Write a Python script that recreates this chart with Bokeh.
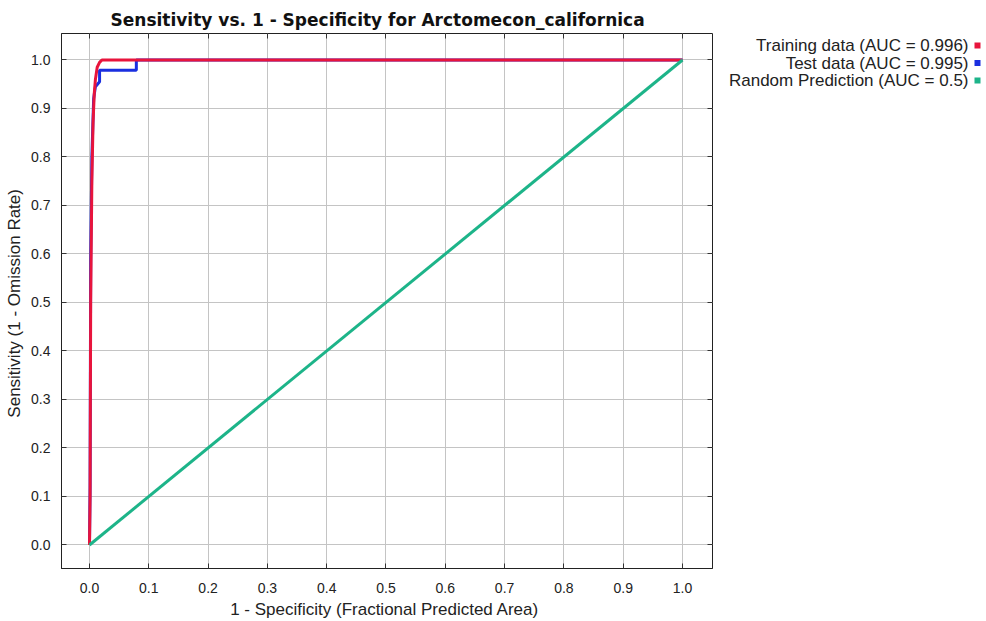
from bokeh.plotting import figure
from bokeh.layouts import row
from bokeh.models import FixedTicker, NumeralTickFormatter, LinearAxis, Range1d
from bokeh.core.properties import value
from bokeh.embed import file_html
from bokeh.resources import INLINE

# Data
train_fpr = [0.0, 0.001, 0.002, 0.004, 0.006, 0.008, 0.010, 0.013, 0.017, 0.021, 0.15, 1.0]
train_tpr = [0.0, 0.10, 0.50, 0.75, 0.87, 0.93, 0.96, 0.985, 0.995, 1.0, 1.0, 1.0]
test_fpr = [0.0, 0.001, 0.002, 0.004, 0.007, 0.010, 0.017, 0.017, 0.079, 0.079, 1.0]
test_tpr = [0.0, 0.12, 0.59, 0.80, 0.92, 0.945, 0.955, 0.979, 0.979, 1.0, 1.0]
rand_x = [0.0, 1.0]
rand_y = [0.0, 1.0]
ticks = [0.0, 0.1, 0.2, 0.3, 0.4, 0.5, 0.6, 0.7, 0.8, 0.9, 1.0]
legend_labels = ["Training data (AUC = 0.996)", "Test data (AUC = 0.995)", "Random Prediction (AUC = 0.5)"]
colors = ["#e8143c", "#1a2fe0", "#1db489"]

FONT = "Liberation Sans"
H = 621
MAIN_W = 720
LEG_W = 266
FRAME_TOP, FRAME_BOTTOM = 33, 568

p = figure(width=MAIN_W, height=H, output_backend="svg", toolbar_location=None,
           x_range=Range1d(-0.0472, 1.0506), y_range=Range1d(-0.0485, 1.0546),
           min_border_left=61, min_border_right=8, min_border_top=FRAME_TOP,
           min_border_bottom=H - FRAME_BOTTOM,
           title="Sensitivity vs. 1 - Specificity for Arctomecon_californica")
p.title.align = "left"
p.title.offset = 49
p.title.text_font = "DejaVu Sans"
p.title.text_font_size = "17px"
p.title.text_font_style = "bold"
p.title.text_color = "#111111"
p.title.standoff = 7

p.outline_line_color = "#222222"
p.outline_line_width = 1
p.background_fill_color = "white"
p.border_fill_color = "white"
p.grid.grid_line_color = "#c4c4c4"
p.grid.grid_line_width = 1
p.xgrid.ticker = FixedTicker(ticks=ticks)
p.ygrid.ticker = FixedTicker(ticks=ticks)

for ax in (p.xaxis[0], p.yaxis[0]):
    ax.ticker = FixedTicker(ticks=ticks)
    ax.formatter = NumeralTickFormatter(format="0.0")
    ax.axis_line_color = "#222222"
    ax.major_tick_line_color = "#333333"
    ax.major_tick_out = 0
    ax.major_tick_in = 5
    ax.minor_tick_line_color = None
    ax.major_label_text_font = FONT
    ax.major_label_text_font_size = "14px"
    ax.major_label_text_color = "#222222"
    ax.axis_label_text_font = FONT
    ax.axis_label_text_font_size = "17px"
    ax.axis_label_text_font_style = "normal"
    ax.axis_label_text_color = "#222222"

p.xaxis[0].axis_label = "1 - Specificity  (Fractional Predicted Area)"
p.yaxis[0].axis_label = "Sensitivity  (1 - Omission Rate)"
p.xaxis[0].major_label_standoff = 14
p.xaxis[0].axis_label_standoff = 4
p.yaxis[0].major_label_standoff = 11
p.yaxis[0].axis_label_standoff = 4

for side in ("right", "above"):
    ax = LinearAxis(ticker=FixedTicker(ticks=ticks), axis_line_color=None,
                    major_tick_line_color="#333333", major_tick_out=0, major_tick_in=5,
                    minor_tick_line_color=None, major_label_text_color=None,
                    major_label_text_font_size="1px", major_label_standoff=0)
    p.add_layout(ax, side)

p.line(test_fpr, test_tpr, line_color=colors[1], line_width=3)
p.line(train_fpr, train_tpr, line_color=colors[0], line_width=3)
p.line(rand_x, rand_y, line_color=colors[2], line_width=3)

# Legend panel: its frame is aligned with the main frame, so use page pixel coordinates
leg = figure(width=LEG_W, height=H, output_backend="svg", toolbar_location=None,
             x_range=Range1d(0, LEG_W), y_range=Range1d(FRAME_BOTTOM, FRAME_TOP),
             min_border=0, outline_line_color=None)
leg.axis.visible = False
leg.grid.visible = False
leg.background_fill_color = "white"
leg.border_fill_color = "white"
row_y = [45 + 17.5 * i for i in range(len(legend_labels))]
leg.text(x=[248] * len(legend_labels), y=row_y, text=legend_labels,
         text_align="right", text_baseline="middle",
         text_font=value(FONT), text_font_size=value("17px"), text_color="#222222")
leg.scatter(x=[257] * len(colors), y=row_y, marker="square", size=6,
            fill_color=colors, line_color=None)

layout = row(p, leg, spacing=0)
open("out.html", "w").write(file_html(layout, INLINE))
